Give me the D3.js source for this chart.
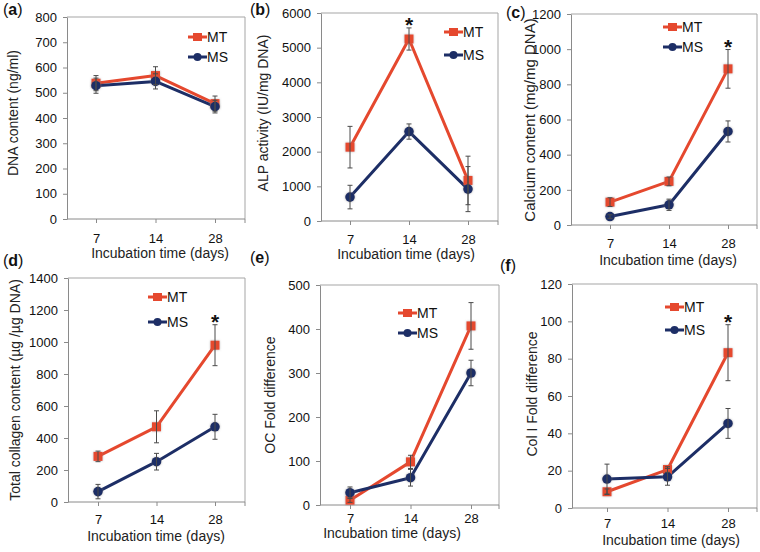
<!DOCTYPE html>
<html><head><meta charset="utf-8">
<script src="https://cdn.jsdelivr.net/npm/d3@7"></script>
<style>
html,body{margin:0;padding:0;background:#fff;}
svg{display:block;font-family:"Liberation Sans",Arial,Helvetica,sans-serif;}
</style></head>
<body><svg id="chart" width="760" height="552"></svg>
<script>
// ---------- data ----------
const days = ["7", "14", "28"];
const seriesNames = ["MT", "MS"];

const dnaMT = [538, 568, 457],   dnaMTerr = [30, 35, 30];
const dnaMS = [528, 545, 445],   dnaMSerr = [30, 30, 25];

const alpMT = [2130, 5250, 1170], alpMTerr = [600, 320, 700];
const alpMS = [690, 2580, 920],   alpMSerr = [340, 220, 650];

const caMT = [130, 248, 888], caMTerr = [25, 25, 110];
const caMS = [48, 115, 532],  caMSerr = [10, 32, 60];

const colMT = [285, 470, 980], colMTerr = [33, 100, 128];
const colMS = [65, 252, 470],  colMSerr = [45, 52, 78];

const ocMT = [11, 98, 407], ocMTerr = [5, 15, 53];
const ocMS = [28, 62, 300], ocMSerr = [13, 19, 29];

const col1MT = [8.7, 20.6, 83.2], col1MTerr = [1.5, 1.5, 15];
const col1MS = [15.5, 16.7, 45.3], col1MSerr = [8, 4.5, 8];

const yTicksA = [0,100,200,300,400,500,600,700,800];
const yTicksB = [0,1000,2000,3000,4000,5000,6000];
const yTicksC = [0,200,400,600,800,1000,1200];
const yTicksD = [0,200,400,600,800,1000,1200,1400];
const yTicksE = [0,100,200,300,400,500];
const yTicksF = [0,20,40,60,80,100,120];

const yTitles = ["DNA content (ng/ml)", "ALP activity (IU/mg DNA)", "Calcium content (mg/mg DNA)",
  "Total collagen content (\u00b5g /\u00b5g DNA)", "OC Fold difference", "Col I Fold difference"];
const panelLetters = ["a","b","c","d","e","f"];
const xTitle = "Incubation time (days)";
// index of category marked significant (null = none)
const sigIndex = [null, 1, 2, 2, null, 2];

// ---------- layout ----------
const colors = {MT: "#e5482e", MS: "#1d2e66"};
const panels = [
  {box:[67,17,245,219],  cat:[96,215],  ticks:yTicksA, mt:dnaMT, mte:dnaMTerr, ms:dnaMS, mse:dnaMSerr,
   leg:[188,37,57], tdy:24, ttdy:39, tx:160, ytx:13, yty:113, yfs:14, lab:[3,15]},
  {box:[321,13,498,221], cat:[350,468], ticks:yTicksB, mt:alpMT, mte:alpMTerr, ms:alpMS, mse:alpMSerr,
   leg:[444,32,55], tdy:22.5, ttdy:38, tx:406, ytx:263, yty:113, yfs:14, lab:[250,15]},
  {box:[571,14,757,225], cat:[610,728], ticks:yTicksC, mt:caMT, mte:caMTerr, ms:caMS, mse:caMSerr,
   leg:[663,27,47], tdy:23, ttdy:39.5, tx:668, ytx:530, yty:120, yfs:15, lab:[506,18]},
  {box:[68,278,245,502], cat:[98,215],  ticks:yTicksD, mt:colMT, mte:colMTerr, ms:colMS, mse:colMSerr,
   leg:[148,297,322], tdy:21.5, ttdy:38.5, tx:156, ytx:15, yty:390, yfs:14, lab:[3,266]},
  {box:[320,285,499,505],cat:[350,471], ticks:yTicksE, mt:ocMT, mte:ocMTerr, ms:ocMS, mse:ocMSerr,
   leg:[398,313,333], tdy:18, ttdy:33, tx:392, ytx:270, yty:395, yfs:14, lab:[250,263]},
  {box:[572,284,757,508],cat:[607,728], ticks:yTicksF, mt:col1MT, mte:col1MTerr, ms:col1MS, mse:col1MSerr,
   leg:[665,307,330], tdy:20, ttdy:36.5, tx:671, ytx:532, yty:394, yfs:14, lab:[500,271]}
];

const svg = d3.select("#chart");
const defs = svg.append("defs");
const f = defs.append("filter").attr("id","glow").attr("x","-50%").attr("y","-50%").attr("width","200%").attr("height","200%");
f.append("feDropShadow").attr("dx",0).attr("dy",0).attr("stdDeviation",1.3)
  .attr("flood-color","#7a7a7a").attr("flood-opacity",0.55);

const axisColor = "#8a8a8a";
const fmt = d3.format("d");

panels.forEach((p, i) => {
  const [l, t, r, b] = p.box;
  const g = svg.append("g");
  const x = d3.scalePoint().domain(days).range(p.cat);
  const yMax = p.ticks[p.ticks.length - 1];
  const y = d3.scaleLinear().domain([0, yMax]).range([b, t]);

  // frame (top & right)
  g.append("path").attr("d", `M${l},${t}H${r}V${b}`).attr("fill","none")
    .attr("stroke","#a5a5a5").attr("stroke-width",1);

  // y axis
  const ya = g.append("g").attr("transform", `translate(${l},0)`)
    .call(d3.axisLeft(y).tickValues(p.ticks).tickFormat(fmt).tickSize(4).tickSizeOuter(0).tickPadding(6));
  ya.select(".domain").attr("stroke", axisColor);
  ya.selectAll(".tick line").attr("stroke", axisColor);
  ya.selectAll("text").attr("font-size", 13).attr("fill","#111")
    .attr("font-family",'"Liberation Sans",Arial,sans-serif');

  // x axis
  const xa = g.append("g").attr("transform", `translate(0,${b})`)
    .call(d3.axisBottom(x).tickSize(4).tickSizeOuter(0).tickPadding(0));
  xa.select(".domain").attr("stroke", axisColor).attr("d", `M${l},0H${r}`);
  xa.selectAll(".tick line").attr("stroke", axisColor);
  xa.selectAll("text").attr("font-size", 13).attr("fill","#111").attr("dy", null)
    .attr("y", p.tdy).attr("font-family",'"Liberation Sans",Arial,sans-serif');
  xa.append("line").attr("x1", r).attr("x2", r).attr("y1", 0).attr("y2", 4).attr("stroke", axisColor);

  // axis titles
  g.append("text").attr("x", p.tx).attr("y", b + p.ttdy).attr("text-anchor","middle")
    .attr("font-size", 14).attr("fill","#222").text(xTitle);
  g.append("text").attr("transform", `translate(${p.ytx},${p.yty}) rotate(-90)`)
    .attr("text-anchor","middle").attr("dy","0.35em").attr("font-size", p.yfs).attr("fill","#222")
    .text(yTitles[i]);

  // panel label
  const lab = g.append("text").attr("x", p.lab[0]).attr("y", p.lab[1]).attr("font-size", 16).attr("fill","#111");
  lab.append("tspan").text("(");
  lab.append("tspan").attr("font-weight","bold").text(panelLetters[i]);
  lab.append("tspan").text(")");

  const series = [
    {name:"MT", v:p.mt, e:p.mte},
    {name:"MS", v:p.ms, e:p.mse}
  ];
  const line = d3.line().x((d, k) => x(days[k])).y(d => y(d));

  series.forEach(s => {
    g.append("path").datum(s.v).attr("d", line).attr("fill","none")
      .attr("stroke", colors[s.name]).attr("stroke-width", 3).attr("stroke-linejoin","round");
  });
  series.forEach(s => {
    const mg = g.append("g").attr("filter","url(#glow)");
    s.v.forEach((v, k) => {
      const cx = x(days[k]), cy = y(v);
      if (s.name === "MT") {
        mg.append("rect").attr("x", cx - 4.5).attr("y", cy - 4.5).attr("width", 9).attr("height", 9)
          .attr("fill", colors.MT);
      } else {
        mg.append("circle").attr("cx", cx).attr("cy", cy).attr("r", 4.8).attr("fill", colors.MS);
      }
    });
  });
  // error bars
  series.forEach(s => {
    s.v.forEach((v, k) => {
      const cx = x(days[k]);
      const y1 = y(v + s.e[k]), y0 = y(Math.max(0, v - s.e[k]));
      const eg = g.append("g").attr("stroke","#4a4a4a").attr("stroke-width",1);
      eg.append("line").attr("x1",cx).attr("x2",cx).attr("y1",y1).attr("y2",y0);
      eg.append("line").attr("x1",cx-2.5).attr("x2",cx+2.5).attr("y1",y1).attr("y2",y1);
      eg.append("line").attr("x1",cx-2.5).attr("x2",cx+2.5).attr("y1",y0).attr("y2",y0);
    });
  });

  // significance asterisk
  if (sigIndex[i] !== null) {
    const k = sigIndex[i];
    const top = y(p.mt[k] + p.mte[k]);
    g.append("text").attr("x", x(days[k])).attr("y", top + 4).attr("text-anchor","middle")
      .attr("font-size", 21).attr("font-weight","bold").attr("fill","#111").text("*");
  }

  // legend
  const [lx, ly1, ly2] = p.leg;
  [["MT", ly1], ["MS", ly2]].forEach(([n, ly]) => {
    const lg = g.append("g");
    lg.append("line").attr("x1", lx).attr("x2", lx + 19).attr("y1", ly).attr("y2", ly)
      .attr("stroke", colors[n]).attr("stroke-width", 3);
    if (n === "MT") lg.append("rect").attr("x", lx + 5).attr("y", ly - 4).attr("width", 9).attr("height", 8).attr("fill", colors.MT);
    else lg.append("circle").attr("cx", lx + 9.5).attr("cy", ly).attr("r", 4).attr("fill", colors.MS);
    lg.append("text").attr("x", lx + 19).attr("y", ly).attr("dy","0.36em").attr("font-size", 14)
      .attr("fill","#111").text(n);
  });
});
</script>
</body></html>
